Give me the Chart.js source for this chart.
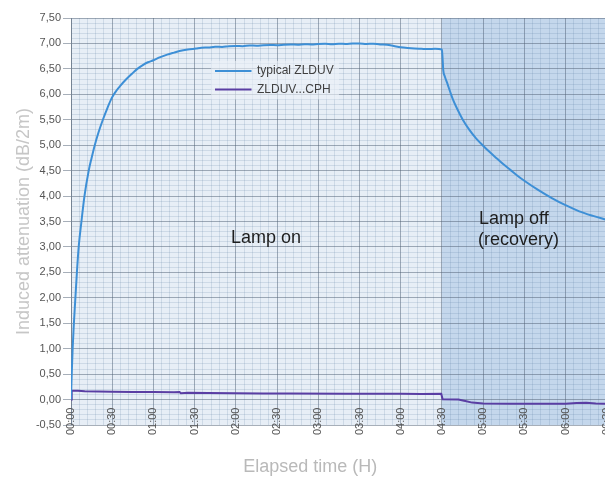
<!DOCTYPE html>
<html>
<head>
<meta charset="utf-8">
<script src="https://cdn.jsdelivr.net/npm/chart.js@4.4.1/dist/chart.umd.min.js"></script>
<style>
  html, body { margin: 0; padding: 0; background: #ffffff; overflow: hidden; width: 605px; height: 480px; }
  canvas { display: block; }
</style>
</head>
<body>
<canvas id="c" width="630" height="480"></canvas>
<script>
// ---- data (time in minutes since start, values in dB/2m) ----
const seriesNames = ['typical ZLDUV', 'ZLDUV...CPH'];
const blueTimes = [0, 0.3, 0.6, 1.2, 2, 3.2, 4.3, 5.6, 7.6, 9.8, 12.9, 15, 17.3, 20, 23.2, 26.5, 29.7, 33, 36, 40, 44.6, 48.3, 52, 56, 60, 65, 70, 75, 79, 85, 91, 95, 100, 105, 110, 115, 120, 125, 130, 135, 140, 145, 150, 155, 160, 165, 170, 175, 180, 185, 190, 195, 200, 205, 210, 215, 220, 225, 230, 235, 240, 245, 250, 255, 260, 265, 270, 270.5, 271, 272, 274, 276, 278, 281, 285, 290, 295, 300, 305, 310, 315, 320, 325, 330, 340, 350, 360, 370, 380, 389];
const blueValues = [0, 0.3, 0.55, 1.0, 1.45, 2.0, 2.5, 3.0, 3.5, 4.0, 4.5, 4.75, 5.0, 5.25, 5.5, 5.73, 5.93, 6.07, 6.17, 6.29, 6.41, 6.5, 6.57, 6.63, 6.67, 6.73, 6.78, 6.82, 6.85, 6.88, 6.9, 6.915, 6.92, 6.935, 6.93, 6.945, 6.95, 6.945, 6.96, 6.955, 6.965, 6.97, 6.965, 6.975, 6.98, 6.975, 6.985, 6.98, 6.99, 6.995, 6.985, 6.995, 6.99, 7.0, 7.0, 6.99, 6.995, 6.98, 6.975, 6.95, 6.925, 6.91, 6.9, 6.895, 6.89, 6.895, 6.88, 6.7, 6.47, 6.36, 6.21, 6.05, 5.9, 5.72, 5.51, 5.3, 5.13, 4.99, 4.86, 4.74, 4.62, 4.51, 4.4, 4.3, 4.12, 3.96, 3.82, 3.7, 3.61, 3.54];
const purpleTimes = [0, 0.5, 5, 10, 20, 30, 45, 60, 75, 79, 80, 85, 100, 120, 140, 160, 200, 240, 255, 269.5, 270.5, 282, 287, 292, 300, 320, 360, 368, 375, 382, 389];
const purpleValues = [0, 0.175, 0.175, 0.165, 0.16, 0.155, 0.15, 0.148, 0.145, 0.15, 0.125, 0.135, 0.13, 0.125, 0.12, 0.12, 0.115, 0.115, 0.11, 0.115, 0.005, 0.0, -0.03, -0.06, -0.075, -0.08, -0.08, -0.07, -0.065, -0.075, -0.08];
const lampOffStart = 270;          // minutes
const regionLabels = ['Lamp on', 'Lamp off', '(recovery)'];
const yTitle = 'Induced attenuation (dB/2m)';
const xTitle = 'Elapsed time (H)';

// ---- helpers ----
const FONT = '"Liberation Sans", Arial, Helvetica, sans-serif';
Chart.defaults.font.family = FONT;
const MAJOR = 'rgba(80,95,115,0.5)';
const MINOR = 'rgba(90,120,160,0.18)';
const isMajorY = v => Math.abs(v * 2 - Math.round(v * 2)) < 1e-6;
const isMajorX = v => Math.abs(v / 30 - Math.round(v / 30)) < 1e-6;
const fmtTime = m => {
  const h = Math.floor(m / 60), mm = Math.round(m % 60);
  return String(h).padStart(2, '0') + ':' + String(mm).padStart(2, '0');
};
const zip = (ts, vs) => ts.map((t, i) => ({ x: t, y: vs[i] }));

const bgPlugin = {
  id: 'bg',
  beforeDraw(chart) {
    const { ctx, chartArea: a, scales: { x } } = chart;
    ctx.save();
    ctx.fillStyle = '#e7eef6';
    ctx.fillRect(a.left, a.top, a.width, a.height);
    const xo = x.getPixelForValue(lampOffStart);
    ctx.fillStyle = '#c4d7ec';
    ctx.fillRect(xo, a.top, a.right - xo, a.height);
    ctx.restore();
  }
};

const overlayPlugin = {
  id: 'overlay',
  afterDraw(chart) {
    const { ctx, scales: { x, y } } = chart;
    ctx.save();
    // region labels
    ctx.fillStyle = '#1e1e1e';
    ctx.font = '18px ' + FONT;
    ctx.textBaseline = 'middle';
    ctx.textAlign = 'center';
    ctx.fillText(regionLabels[0], x.getPixelForValue(142), y.getPixelForValue(3.18));
    ctx.textAlign = 'left';
    ctx.fillText(regionLabels[1], x.getPixelForValue(297), y.getPixelForValue(3.55));
    ctx.fillText(regionLabels[2], x.getPixelForValue(296.3), y.getPixelForValue(3.14));
    // legend
    const lx = 215, ly = 71, gap = 18.5;
    ctx.fillStyle = 'rgba(236,241,248,0.6)';
    ctx.fillRect(lx - 4, ly - 10, 128, gap + 20);
    ctx.font = '12px ' + FONT;
    ctx.textAlign = 'left';
    chart.data.datasets.forEach((ds, i) => {
      const yy = ly + i * gap;
      ctx.strokeStyle = ds.borderColor;
      ctx.lineWidth = 2;
      ctx.beginPath();
      ctx.moveTo(lx, yy);
      ctx.lineTo(lx + 36.5, yy);
      ctx.stroke();
      ctx.fillStyle = '#404040';
      ctx.fillText(ds.label, lx + 42, yy);
    });
    ctx.restore();
  }
};

new Chart(document.getElementById('c'), {
  type: 'line',
  data: {
    datasets: [
      { label: seriesNames[0], data: zip(blueTimes, blueValues), borderColor: '#3d8fd6', borderWidth: 2, pointRadius: 0, fill: false, cubicInterpolationMode: 'monotone' },
      { label: seriesNames[1], data: zip(purpleTimes, purpleValues), borderColor: '#5a3ea3', borderWidth: 2, pointRadius: 0, fill: false, tension: 0 }
    ]
  },
  options: {
    responsive: false,
    devicePixelRatio: 1,
    animation: false,
    events: [],
    layout: { padding: { left: 0, top: 18, right: 9.5, bottom: 0 } },
    plugins: {
      legend: { display: false },
      tooltip: { enabled: false },
      title: {
        display: true, position: 'bottom', text: xTitle, color: '#b9b9b9',
        font: { size: 18, weight: 'normal', family: FONT }, padding: { top: 31.4, bottom: 2 }
      }
    },
    scales: {
      x: {
        type: 'linear', min: 0, max: 400, position: { y: 0 },
        afterFit: s => { s.paddingRight = 0; s.paddingLeft = 0; },
        ticks: {
          stepSize: 6, autoSkip: false, maxTicksLimit: 1000, maxRotation: 90, minRotation: 90,
          padding: 8, color: '#555555', font: { size: 11 },
          callback: v => isMajorX(v) ? fmtTime(v) : ''
        },
        grid: { color: c => isMajorX(c.tick.value) ? MAJOR : MINOR, drawTicks: false, lineWidth: 1 },
        border: { display: false }
      },
      y: {
        type: 'linear', min: -0.5, max: 7.5,
        afterFit: s => { s.width = 71; },
        ticks: {
          stepSize: 0.1, autoSkip: false, maxTicksLimit: 1000, padding: 2, color: '#555555', font: { size: 11 },
          callback: v => isMajorY(v) ? v.toFixed(2).replace('.', ',') : ''
        },
        grid: {
          color: c => isMajorY(c.tick.value) ? MAJOR : MINOR,
          tickColor: c => isMajorY(c.tick.value) ? MAJOR : 'rgba(0,0,0,0)',
          tickLength: 8, lineWidth: 1
        },
        border: { color: MAJOR },
        title: { display: true, text: yTitle, color: '#c6c6c6', font: { size: 18 }, padding: { top: 13, bottom: 0 } }
      }
    }
  },
  plugins: [bgPlugin, overlayPlugin]
});
</script>
</body>
</html>
